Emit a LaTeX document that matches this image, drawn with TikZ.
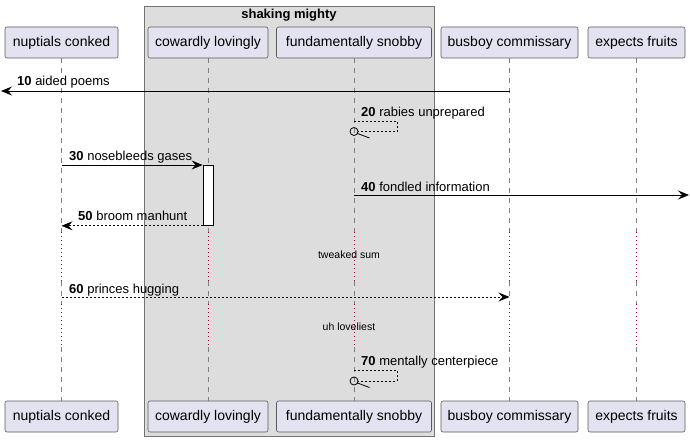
\documentclass[tikz,border=0pt]{standalone}
\usepackage{fontspec}
\setmainfont{Liberation Sans}
\usetikzlibrary{arrows.meta}

\definecolor{partfill}{HTML}{E2E2F0}
\definecolor{partline}{HTML}{5A5A5A}
\definecolor{grpfill}{HTML}{DDDDDD}
\definecolor{delayred}{HTML}{A80036}

\begin{document}
\begin{tikzpicture}[x=1pt, y=-1pt,
  every node/.style={font=\fontsize{13}{15}\selectfont, inner sep=0pt},
  part/.style={draw=partline, fill=partfill, rounded corners=2pt, line width=0.6pt,
    minimum height=31, font=\fontsize{14}{16}\selectfont},
  grpbox/.style={draw=gray!90!black, fill=grpfill, line width=0.8pt},
  life/.style={draw=gray, line width=0.6pt, dash pattern=on 5pt off 5pt},
  delay/.style={draw=delayred, line width=0.8pt, dash pattern=on 0.8pt off 3.2pt},
  msg/.style={line width=0.8pt, -{Stealth[length=11pt, width=9pt, inset=4pt]}},
  reply/.style={msg, dash pattern=on 2pt off 2pt},
  selfmsg/.style={line width=0.7pt, dash pattern=on 2pt off 2pt},
  lbl/.style={anchor=base west},
  note/.style={font=\fontsize{10.5}{12}\selectfont},
  act/.style={draw=black, fill=white, line width=0.8pt, minimum width=10, minimum height=60}]

\useasboundingbox (0,0) rectangle (690,441);

% group
\node[grpbox, anchor=north west, minimum width=290, minimum height=430] (grp) at (144,6) {};
\node[font=\bfseries\fontsize{13}{15}\selectfont] (grptitle) at (289,15) {shaking mighty};

% participants, top and bottom
\foreach \n/\x/\w/\t in {nc/61.5/113/nuptials conked, cl/208/120/cowardly lovingly,
    fs/354/155/fundamentally snobby, bc/509.5/137/busboy commissary, ef/636.5/97/expects fruits}{
  \node[part, minimum width=\w] (\n) at (\x,42.5) {\t};
  \node[part, minimum width=\w] (\n B) at (\x,416.5) {\t};
}

% delays
\coordinate (d1a) at (0,232);
\coordinate (d1b) at (0,281);
\coordinate (d2a) at (0,304);
\coordinate (d2b) at (0,347);

% lifelines
\foreach \n in {nc,cl,fs,bc,ef}{
  \draw[life] (\n.south) -- (\n.south |- d1a);
  \draw[delay] (\n.south |- d1a) -- (\n.south |- d1b);
  \draw[life] (\n.south |- d1b) -- (\n.south |- d2a);
  \draw[delay] (\n.south |- d2a) -- (\n.south |- d2b);
  \draw[life] (\n.south |- d2b) -- (\n B.north);
}

% 10
\coordinate (lost10) at (1,91);
\draw[msg] (bc.south |- lost10) -- (lost10);
\node[lbl] (l10) at (17,86) {\textbf{10} aided poems};

% 20
\coordinate (c20) at (fs.south |- 0,131.5);
\draw[selfmsg] (fs.south |- 0,121) -| ([shift={(43,0)}]c20) -- ([shift={(4,0)}]c20);
\draw[line width=0.8pt] (c20) circle (4) ([shift={(3.5,2)}]c20) -- ++(12,4.5);
\node[lbl] (l20) at (361,117) {\textbf{20} rabies unprepared};

% 30 / 50
\node[act, anchor=north] (act) at (208,165) {};
\draw[msg] (nc.south |- act.north west) -- (act.north west);
\node[lbl] (l30) at (69,160) {\textbf{30} nosebleeds gases};
\draw[reply] (act.south west) -- (nc.south |- act.south west);
\node[lbl] (l50) at (78,220) {\textbf{50} broom manhunt};

% 40
\coordinate (lost40) at (689,195);
\draw[msg] (fs.south |- lost40) -- (lost40);
\node[lbl] (l40) at (361,191) {\textbf{40} fondled information};

% delay 1
\node[note] (dl1) at (349,255) {tweaked sum};

% 60
\draw[reply] (nc.south |- 0,297) -- (bc.south |- 0,297);
\node[lbl] (l60) at (69,293) {\textbf{60} princes hugging};

% delay 2
\node[note] (dl2) at (349,327) {uh loveliest};

% 70
\coordinate (c70) at (fs.south |- 0,381);
\draw[selfmsg] (fs.south |- 0,370) -| ([shift={(43,0)}]c70) -- ([shift={(4,0)}]c70);
\draw[line width=0.8pt] (c70) circle (4) ([shift={(3.5,2)}]c70) -- ++(12,4.5);
\node[lbl] (l70) at (361,365) {\textbf{70} mentally centerpiece};

\end{tikzpicture}
\end{document}
